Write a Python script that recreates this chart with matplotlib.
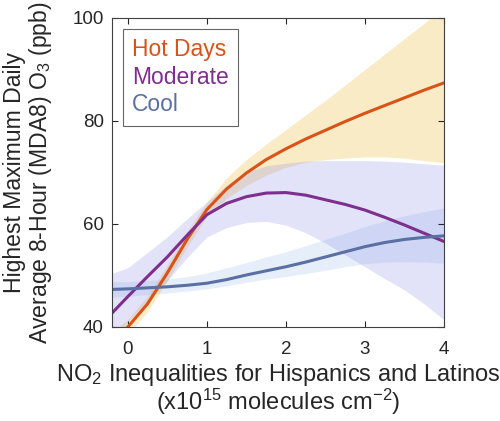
import matplotlib
matplotlib.use("Agg")
import matplotlib.pyplot as plt

plt.rcParams['font.family'] = ['Liberation Sans', 'DejaVu Sans']
plt.rcParams['mathtext.fontset'] = 'custom'
plt.rcParams['mathtext.rm'] = 'Liberation Sans'
plt.rcParams['mathtext.it'] = 'Liberation Sans:italic'

x = [-0.2, 0, 0.25, 0.5, 0.75, 1, 1.25, 1.5, 1.75, 2, 2.25, 2.5, 2.75, 3, 3.25, 3.5, 3.75, 4]

hot = [37.0, 40.0, 44.5, 50.5, 57.0, 62.8, 66.8, 69.9, 72.5, 74.6, 76.5, 78.2, 79.9, 81.5, 83.0, 84.5, 86.0, 87.4]
hot_lo = [35.0, 38.5, 43.0, 49.0, 55.5, 61.5, 65.0, 67.5, 69.5, 71.0, 72.0, 72.5, 72.8, 73.0, 73.0, 72.8, 72.3, 71.9]
hot_hi = [39.0, 41.5, 46.0, 52.0, 58.5, 64.2, 69.0, 72.5, 75.5, 78.3, 81.2, 84.0, 87.0, 90.0, 93.0, 96.0, 99.0, 102.0]

mod = [42.7, 45.9, 49.8, 53.6, 57.8, 61.8, 64.0, 65.3, 66.0, 66.1, 65.6, 64.7, 63.8, 62.7, 61.3, 59.8, 58.2, 56.6]
mod_lo = [36.0, 41.0, 45.0, 49.0, 53.5, 57.5, 59.3, 60.3, 60.5, 59.8, 58.3, 56.3, 54.0, 51.7, 49.4, 47.2, 44.5, 41.4]
mod_hi = [50.4, 51.5, 54.5, 57.5, 61.0, 64.3, 67.5, 70.0, 71.3, 71.8, 72.2, 72.3, 72.3, 72.3, 72.2, 72.0, 71.7, 71.4]

cool = [47.3, 47.4, 47.6, 47.8, 48.1, 48.5, 49.2, 50.1, 50.9, 51.7, 52.6, 53.6, 54.6, 55.6, 56.4, 57.0, 57.4, 57.7]
cool_lo = [45.8, 46.0, 46.3, 46.6, 47.0, 47.4, 48.0, 48.7, 49.3, 49.8, 50.4, 51.0, 51.7, 52.3, 52.6, 52.7, 52.6, 52.4]
cool_hi = [48.8, 48.8, 49.0, 49.3, 49.8, 50.5, 51.5, 52.5, 53.6, 54.6, 55.8, 57.0, 58.2, 59.5, 60.6, 61.6, 62.4, 63.1]

labels = ['Hot Days', 'Moderate', 'Cool']
xticks = [0, 1, 2, 3, 4]
yticks = [40, 60, 80, 100]

c_hot, c_mod, c_cool = '#D95319', '#7E2F8E', '#5A6FA2'
txt = '#262626'

fig = plt.figure(figsize=(5.0, 4.21), dpi=100)
ax = fig.add_axes([0.224, 0.2233, 0.664, 0.734])

ax.fill_between(x, cool_lo, cool_hi, color='#C9DAF2', alpha=0.45, lw=0)
ax.fill_between(x, hot_lo, hot_hi, color='#EDB120', alpha=0.25, lw=0)
ax.fill_between(x, mod_lo, mod_hi, color='#8C8CE6', alpha=0.25, lw=0)

l1, = ax.plot(x, hot, color=c_hot, lw=2.2)
l2, = ax.plot(x, mod, color=c_mod, lw=2.2)
l3, = ax.plot(x, cool, color=c_cool, lw=2.2)

ax.set_xlim(-0.2, 4)
ax.set_ylim(40, 100)
ax.set_xticks(xticks)
ax.set_yticks(yticks)
ax.tick_params(direction='in', top=True, right=True, length=4, width=0.8,
               labelsize=13.5, colors=txt)
ax.tick_params(axis='x', pad=10)
ax.tick_params(axis='y', pad=6)
for s in ax.spines.values():
    s.set_color('#404040')
    s.set_linewidth(0.8)

ax.set_xlabel('NO$_2$ Inequalities for Hispanics and Latinos\n(x10$^{15}$ molecules cm$^{-2}$)',
              fontsize=17, color=txt, labelpad=3, linespacing=0.95)
ax.set_ylabel('Highest Maximum Daily\nAverage 8-Hour (MDA8) O$_3$ (ppb)',
              fontsize=16.6, color=txt, labelpad=13, linespacing=1.05)

leg = ax.legend([l1, l2, l3], labels, loc='upper left', bbox_to_anchor=(0.033, 0.964),
                borderaxespad=0, handlelength=0, handletextpad=0, fontsize=16.5,
                frameon=True, fancybox=False, edgecolor='#404040', borderpad=0.4,
                labelspacing=0.2)
leg.get_frame().set_linewidth(0.8)
for h in leg.legend_handles:
    h.set_visible(False)
for t, c in zip(leg.get_texts(), [c_hot, c_mod, c_cool]):
    t.set_color(c)

fig.savefig('out.png', dpi=100)
